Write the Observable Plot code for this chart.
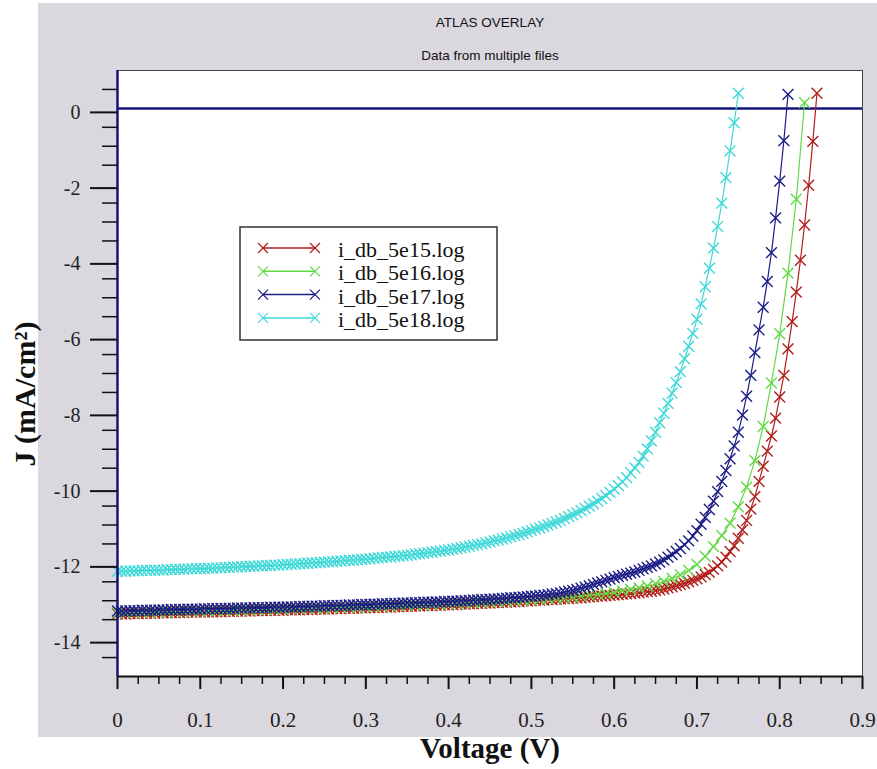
<!DOCTYPE html>
<html>
<head>
<meta charset="utf-8">
<script src="https://cdn.jsdelivr.net/npm/d3@7"></script>
<script src="https://cdn.jsdelivr.net/npm/@observablehq/plot@0.6"></script>
<style>
  html, body { margin: 0; padding: 0; background: #ffffff; }
  #chart { width: 877px; height: 769px; }
</style>
</head>
<body>
<div id="chart"></div>
<script>
// Solar cell J–V sweeps for four doping levels (ATLAS overlay)
const seriesNames = ["i_db_5e15.log", "i_db_5e16.log", "i_db_5e17.log", "i_db_5e18.log"];
const seriesColors = ["#b01e1a", "#62d844", "#1c1c86", "#3ed8d8"];

// Voltage sweep (V): 5 mV steps, and 10 mV steps for the 5e16 run
const voltageFine = [
  0.000,0.005,0.010,0.015,0.020,0.025,0.030,0.035,0.040,0.045,
  0.050,0.055,0.060,0.065,0.070,0.075,0.080,0.085,0.090,0.095,
  0.100,0.105,0.110,0.115,0.120,0.125,0.130,0.135,0.140,0.145,
  0.150,0.155,0.160,0.165,0.170,0.175,0.180,0.185,0.190,0.195,
  0.200,0.205,0.210,0.215,0.220,0.225,0.230,0.235,0.240,0.245,
  0.250,0.255,0.260,0.265,0.270,0.275,0.280,0.285,0.290,0.295,
  0.300,0.305,0.310,0.315,0.320,0.325,0.330,0.335,0.340,0.345,
  0.350,0.355,0.360,0.365,0.370,0.375,0.380,0.385,0.390,0.395,
  0.400,0.405,0.410,0.415,0.420,0.425,0.430,0.435,0.440,0.445,
  0.450,0.455,0.460,0.465,0.470,0.475,0.480,0.485,0.490,0.495,
  0.500,0.505,0.510,0.515,0.520,0.525,0.530,0.535,0.540,0.545,
  0.550,0.555,0.560,0.565,0.570,0.575,0.580,0.585,0.590,0.595,
  0.600,0.605,0.610,0.615,0.620,0.625,0.630,0.635,0.640,0.645,
  0.650,0.655,0.660,0.665,0.670,0.675,0.680,0.685,0.690,0.695,
  0.700,0.705,0.710,0.715,0.720,0.725,0.730,0.735,0.740,0.745,
  0.750,0.755,0.760,0.765,0.770,0.775,0.780,0.785,0.790,0.795,
  0.800,0.805,0.810,0.815,0.820,0.825,0.830,0.835,0.840,0.845
];
const voltageCoarse = [
  0.00,0.01,0.02,0.03,0.04,0.05,0.06,0.07,0.08,0.09,
  0.10,0.11,0.12,0.13,0.14,0.15,0.16,0.17,0.18,0.19,
  0.20,0.21,0.22,0.23,0.24,0.25,0.26,0.27,0.28,0.29,
  0.30,0.31,0.32,0.33,0.34,0.35,0.36,0.37,0.38,0.39,
  0.40,0.41,0.42,0.43,0.44,0.45,0.46,0.47,0.48,0.49,
  0.50,0.51,0.52,0.53,0.54,0.55,0.56,0.57,0.58,0.59,
  0.60,0.61,0.62,0.63,0.64,0.65,0.66,0.67,0.68,0.69,
  0.70,0.71,0.72,0.73,0.74,0.75,0.76,0.77,0.78,0.79,
  0.80,0.81,0.82,0.83
];

// Current density J (mA/cm²)
const j5e15 = [
  -13.35,-13.35,-13.35,-13.34,-13.34,-13.34,-13.33,-13.33,-13.33,-13.33,
  -13.32,-13.32,-13.32,-13.31,-13.31,-13.31,-13.31,-13.30,-13.30,-13.30,
  -13.30,-13.30,-13.29,-13.29,-13.29,-13.29,-13.28,-13.28,-13.28,-13.27,
  -13.27,-13.27,-13.27,-13.26,-13.26,-13.26,-13.26,-13.25,-13.25,-13.25,
  -13.25,-13.24,-13.24,-13.24,-13.24,-13.23,-13.23,-13.23,-13.22,-13.22,
  -13.22,-13.22,-13.21,-13.21,-13.21,-13.20,-13.20,-13.20,-13.19,-13.19,
  -13.19,-13.18,-13.18,-13.18,-13.17,-13.17,-13.17,-13.16,-13.16,-13.15,
  -13.15,-13.15,-13.14,-13.14,-13.13,-13.13,-13.13,-13.12,-13.12,-13.11,
  -13.11,-13.10,-13.10,-13.09,-13.09,-13.08,-13.08,-13.07,-13.07,-13.06,
  -13.06,-13.05,-13.05,-13.04,-13.04,-13.03,-13.03,-13.02,-13.01,-13.01,
  -13.00,-12.99,-12.99,-12.98,-12.97,-12.97,-12.96,-12.95,-12.95,-12.94,
  -12.93,-12.92,-12.92,-12.91,-12.90,-12.89,-12.88,-12.88,-12.87,-12.86,
  -12.85,-12.84,-12.83,-12.82,-12.81,-12.80,-12.79,-12.77,-12.76,-12.75,
  -12.73,-12.71,-12.69,-12.66,-12.63,-12.60,-12.57,-12.54,-12.50,-12.46,
  -12.42,-12.37,-12.31,-12.25,-12.17,-12.08,-11.98,-11.85,-11.70,-11.55,
  -11.35,-11.13,-10.88,-10.58,-10.25,-9.85,-9.45,-9.05,-8.65,-8.18,
  -7.62,-7.05,-6.35,-5.63,-4.85,-4.01,-3.08,-2.03,-0.87,0.40
];
const j5e16 = [
  -13.32,-13.32,-13.31,-13.31,-13.30,-13.30,-13.29,-13.29,-13.28,-13.28,
  -13.27,-13.27,-13.26,-13.26,-13.25,-13.25,-13.24,-13.24,-13.23,-13.23,
  -13.22,-13.21,-13.21,-13.20,-13.20,-13.19,-13.18,-13.18,-13.17,-13.17,
  -13.16,-13.15,-13.14,-13.14,-13.13,-13.12,-13.11,-13.11,-13.10,-13.09,
  -13.08,-13.07,-13.06,-13.05,-13.04,-13.03,-13.02,-13.01,-13.00,-12.99,
  -12.98,-12.96,-12.95,-12.93,-12.92,-12.90,-12.88,-12.86,-12.83,-12.81,
  -12.78,-12.74,-12.70,-12.66,-12.61,-12.55,-12.49,-12.41,-12.32,-12.20,
  -12.04,-11.83,-11.57,-11.28,-10.95,-10.52,-10.00,-9.30,-8.40,-7.25,
  -5.95,-4.35,-2.40,0.15
];
const j5e17 = [
  -13.27,-13.27,-13.27,-13.26,-13.26,-13.26,-13.25,-13.25,-13.25,-13.25,
  -13.24,-13.24,-13.24,-13.23,-13.23,-13.23,-13.23,-13.22,-13.22,-13.22,
  -13.22,-13.21,-13.21,-13.21,-13.21,-13.20,-13.20,-13.20,-13.20,-13.19,
  -13.19,-13.19,-13.19,-13.18,-13.18,-13.18,-13.18,-13.17,-13.17,-13.17,
  -13.17,-13.16,-13.16,-13.16,-13.15,-13.15,-13.15,-13.14,-13.14,-13.14,
  -13.13,-13.13,-13.13,-13.12,-13.12,-13.12,-13.11,-13.11,-13.11,-13.10,
  -13.10,-13.10,-13.09,-13.09,-13.08,-13.08,-13.08,-13.07,-13.07,-13.06,
  -13.06,-13.06,-13.05,-13.05,-13.04,-13.04,-13.04,-13.03,-13.03,-13.02,
  -13.02,-13.01,-13.01,-13.00,-13.00,-12.99,-12.98,-12.98,-12.97,-12.97,
  -12.96,-12.95,-12.95,-12.94,-12.93,-12.92,-12.92,-12.91,-12.90,-12.89,
  -12.88,-12.87,-12.86,-12.85,-12.84,-12.82,-12.81,-12.79,-12.77,-12.75,
  -12.73,-12.70,-12.67,-12.64,-12.61,-12.57,-12.53,-12.50,-12.46,-12.43,
  -12.39,-12.36,-12.33,-12.30,-12.27,-12.24,-12.20,-12.16,-12.12,-12.08,
  -12.03,-11.98,-11.92,-11.85,-11.78,-11.70,-11.62,-11.52,-11.42,-11.29,
  -11.15,-10.98,-10.80,-10.59,-10.37,-10.12,-9.85,-9.56,-9.25,-8.91,
  -8.55,-8.10,-7.60,-7.05,-6.45,-5.85,-5.25,-4.57,-3.81,-2.89,
  -1.92,-0.85,0.37
];
const j5e18 = [
  -12.22,-12.22,-12.22,-12.21,-12.21,-12.21,-12.20,-12.20,-12.20,-12.19,
  -12.19,-12.19,-12.18,-12.18,-12.17,-12.17,-12.17,-12.16,-12.16,-12.15,
  -12.15,-12.15,-12.14,-12.14,-12.13,-12.13,-12.12,-12.12,-12.11,-12.11,
  -12.10,-12.10,-12.09,-12.09,-12.08,-12.08,-12.07,-12.07,-12.06,-12.06,
  -12.05,-12.04,-12.04,-12.03,-12.02,-12.02,-12.01,-12.00,-12.00,-11.99,
  -11.98,-11.97,-11.97,-11.96,-11.95,-11.94,-11.93,-11.93,-11.92,-11.91,
  -11.90,-11.89,-11.88,-11.87,-11.86,-11.85,-11.84,-11.83,-11.82,-11.81,
  -11.80,-11.79,-11.77,-11.76,-11.75,-11.73,-11.72,-11.70,-11.69,-11.67,
  -11.66,-11.64,-11.62,-11.60,-11.58,-11.56,-11.54,-11.52,-11.50,-11.47,
  -11.45,-11.42,-11.40,-11.37,-11.34,-11.31,-11.28,-11.25,-11.22,-11.18,
  -11.15,-11.11,-11.08,-11.04,-11.00,-10.96,-10.92,-10.88,-10.83,-10.78,
  -10.73,-10.68,-10.62,-10.56,-10.50,-10.44,-10.37,-10.30,-10.22,-10.14,
  -10.05,-9.96,-9.86,-9.75,-9.62,-9.49,-9.35,-9.18,-8.99,-8.78,
  -8.55,-8.30,-8.05,-7.79,-7.52,-7.24,-6.95,-6.61,-6.28,-5.94,
  -5.57,-5.16,-4.71,-4.22,-3.69,-3.12,-2.50,-1.83,-1.12,-0.38,
  0.40
];

// Axis ticks
const xMajorTicks = [0, 0.1, 0.2, 0.3, 0.4, 0.5, 0.6, 0.7, 0.8, 0.9];
const xMinorTicks = [
  0.025,0.05,0.075,0.125,0.15,0.175,0.225,0.25,0.275,0.325,0.35,0.375,
  0.425,0.45,0.475,0.525,0.55,0.575,0.625,0.65,0.675,0.725,0.75,0.775,
  0.825,0.85,0.875
];
const yMajorTicks = [-14, -12, -10, -8, -6, -4, -2, 0];
const yMinorTicks = [
  -14.5,-13.5,-13,-12.5,-11.5,-11,-10.5,-9.5,-9,-8.5,-7.5,-7,-6.5,
  -5.5,-5,-4.5,-3.5,-3,-2.5,-1.5,-1,-0.5,0.5
];

const sweeps = [
  {name: seriesNames[0], color: seriesColors[0], voltage: voltageFine, current: j5e15},
  {name: seriesNames[1], color: seriesColors[1], voltage: voltageCoarse, current: j5e16},
  {name: seriesNames[2], color: seriesColors[2], voltage: voltageFine, current: j5e17},
  {name: seriesNames[3], color: seriesColors[3], voltage: voltageFine, current: j5e18}
];
const toRows = (s) => s.current.map((j, i) => ({v: s.voltage[i], j}));

const serif = "'Liberation Serif', 'DejaVu Serif', serif";
const sans = "'Liberation Sans', Arial, sans-serif";
const navy = "#14147a";

const curveMarks = sweeps.flatMap((s) => {
  const rows = toRows(s);
  return [
    Plot.line(rows, {x: "v", y: "j", stroke: s.color, strokeWidth: 1.2}),
    Plot.dot(rows, {x: "v", y: "j", symbol: "times", r: 5, stroke: s.color, strokeWidth: 1.4})
  ];
});

const chart = Plot.plot({
  width: 877,
  height: 769,
  marginLeft: 117,
  marginRight: 15,
  marginTop: 70,
  marginBottom: 93,
  x: {domain: [0, 0.9]},
  y: {domain: [-15, 1]},
  style: {background: "transparent", fontFamily: serif, color: "#111"},
  marks: [
    Plot.frame({fill: "#ffffff", stroke: "#444", strokeWidth: 1}),
    Plot.ruleY([0], {stroke: navy, strokeWidth: 2.5}),
    ...curveMarks,
    // left axis line and bottom axis line
    Plot.ruleX([0], {stroke: navy, strokeWidth: 2.5}),
    Plot.ruleY([-15], {stroke: "#111", strokeWidth: 2}),
    Plot.axisY(yMajorTicks, {
      anchor: "left", tickSize: 27, tickPadding: 10, strokeWidth: 2, stroke: "#111",
      tickFormat: (d) => String(d), fontSize: 20, fontFamily: serif, fill: "#222", label: null, dy: 4
    }),
    Plot.axisY(yMinorTicks, {
      anchor: "left", tickSize: 15, strokeWidth: 1.5, stroke: "#111",
      tickFormat: () => "", label: null
    }),
    Plot.axisX(xMajorTicks, {
      anchor: "bottom", tickSize: 13, tickPadding: 23, strokeWidth: 2, stroke: "#111",
      tickFormat: (d) => String(d), fontSize: 21, fontFamily: serif, fill: "#222", label: null
    }),
    Plot.axisX(xMinorTicks, {
      anchor: "bottom", tickSize: 8, strokeWidth: 1.5, stroke: "#111",
      tickFormat: () => "", label: null
    })
  ]
});

const svg = d3.select(chart);
// panel background behind the plot
svg.insert("rect", ":first-child")
  .attr("x", 38).attr("y", 3).attr("width", 839).attr("height", 734)
  .attr("fill", "#dbd7df");

// titles
svg.append("text").attr("x", 490).attr("y", 27).attr("text-anchor", "middle")
  .attr("font-family", sans).attr("font-size", 13.5).attr("fill", "#111")
  .text("ATLAS OVERLAY");
svg.append("text").attr("x", 490).attr("y", 60).attr("text-anchor", "middle")
  .attr("font-family", sans).attr("font-size", 13.5).attr("fill", "#111")
  .text("Data from multiple files");

// axis labels
svg.append("text").attr("x", 490).attr("y", 758).attr("text-anchor", "middle")
  .attr("font-family", serif).attr("font-size", 29).attr("font-weight", "bold").attr("fill", "#111")
  .text("Voltage (V)");
svg.append("text").attr("transform", "translate(35,394) rotate(-90)").attr("text-anchor", "middle")
  .attr("font-family", serif).attr("font-size", 30).attr("font-weight", "bold").attr("fill", "#111")
  .text("J (mA/cm²)");

// legend
const legend = svg.append("g").attr("text-anchor", "start");
legend.append("rect").attr("x", 240).attr("y", 227).attr("width", 257).attr("height", 113)
  .attr("fill", "#ffffff").attr("stroke", "#333").attr("stroke-width", 1.5);
sweeps.forEach((s, i) => {
  const y = 248 + i * 23.3;
  const row = legend.append("g");
  row.append("line").attr("x1", 263).attr("x2", 315).attr("y1", y).attr("y2", y)
    .attr("stroke", s.color).attr("stroke-width", 1.5);
  [263, 315].forEach((cx) => {
    row.append("path")
      .attr("d", `M${cx - 5},${y - 5}L${cx + 5},${y + 5}M${cx - 5},${y + 5}L${cx + 5},${y - 5}`)
      .attr("stroke", s.color).attr("stroke-width", 1.2);
  });
  row.append("text").attr("x", 338).attr("y", y + 9).attr("text-anchor", "start")
    .attr("font-family", serif).attr("font-size", 22).attr("fill", "#111")
    .text(s.name);
});

document.getElementById("chart").appendChild(chart);
</script>
</body>
</html>
